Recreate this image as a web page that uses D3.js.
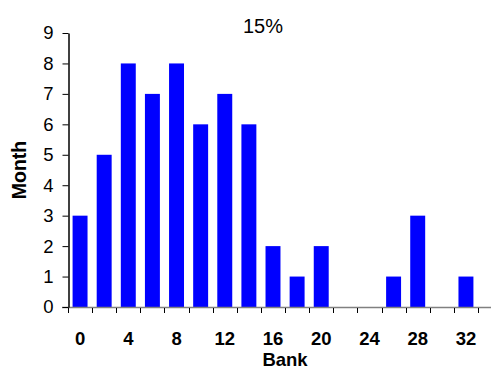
<!DOCTYPE html>
<html>
<head>
<meta charset="utf-8">
<script src="https://cdn.jsdelivr.net/npm/d3@7"></script>
<style>
  html, body { margin: 0; padding: 0; background: #fff; }
  svg { display: block; font-family: "Liberation Sans", Arial, sans-serif; }
</style>
</head>
<body>
<svg id="chart" width="493" height="369"></svg>
<script>
// Bank index and number of months per bank
const banks = [0, 2, 4, 6, 8, 10, 12, 14, 16, 18, 20, 22, 24, 26, 28, 30, 32];
const months = [3, 5, 8, 7, 8, 6, 7, 6, 2, 1, 2, 0, 0, 1, 3, 0, 1];
const yTicks = [0, 1, 2, 3, 4, 5, 6, 7, 8, 9];
const xLabels = [0, 4, 8, 12, 16, 20, 24, 28, 32];
const title = "15%";

(function () {
  const svg = d3.select("#chart");
  const plotLeft = 68, plotRight = 478, plotTop = 33, plotBottom = 307;

  const x = d3.scaleBand()
    .domain(banks)
    .range([plotLeft, plotRight])
    .paddingInner(0.38)
    .paddingOuter(0.19);

  const y = d3.scaleLinear().domain([0, 9]).range([plotBottom, plotTop]);

  const step = x.step();

  // bars
  svg.append("g")
    .selectAll("rect")
    .data(banks.map((b, i) => ({ bank: b, value: months[i] })).filter(d => d.value > 0))
    .join("rect")
    .attr("x", d => x(d.bank))
    .attr("y", d => y(d.value))
    .attr("width", x.bandwidth())
    .attr("height", d => y(0) - y(d.value))
    .attr("fill", "#0000ff");

  // x axis baseline
  svg.append("line")
    .attr("x1", plotLeft - 6).attr("x2", 491)
    .attr("y1", y(0) + 0.5).attr("y2", y(0) + 0.5)
    .attr("stroke", "#808080").attr("stroke-width", 1.5);

  // x tick marks at band boundaries
  svg.append("g")
    .selectAll("line")
    .data(d3.range(banks.length + 1))
    .join("line")
    .attr("x1", i => Math.round(plotLeft + i * step) + 0.5)
    .attr("x2", i => Math.round(plotLeft + i * step) + 0.5)
    .attr("y1", y(0) + 1)
    .attr("y2", y(0) + 6)
    .attr("stroke", "#000").attr("stroke-width", 1);

  // x labels
  svg.append("g")
    .selectAll("text")
    .data(xLabels)
    .join("text")
    .attr("x", d => x(d) + x.bandwidth() / 2)
    .attr("y", 345)
    .attr("text-anchor", "middle")
    .attr("font-size", 18.5)
    .attr("font-weight", "bold")
    .text(d => d);

  // y axis
  const yAxis = d3.axisLeft(y).tickValues(yTicks).tickSize(6).tickSizeOuter(0).tickPadding(9);
  const gy = svg.append("g")
    .attr("transform", `translate(${plotLeft + 0.5},0)`)
    .call(yAxis);
  gy.select(".domain").attr("stroke", "#000").attr("stroke-width", 1.5);
  gy.selectAll(".tick line").attr("stroke", "#000");
  gy.selectAll(".tick text")
    .attr("font-size", 18.5)
    .attr("font-family", "Liberation Sans, Arial, sans-serif")
    .attr("fill", "#000");

  // axis titles
  svg.append("text")
    .attr("transform", `translate(26,${(plotTop + plotBottom) / 2}) rotate(-90)`)
    .attr("text-anchor", "middle")
    .attr("font-size", 19.5)
    .attr("font-weight", "bold")
    .text("Month");

  svg.append("text")
    .attr("x", 285)
    .attr("y", 366)
    .attr("text-anchor", "middle")
    .attr("font-size", 18.5)
    .attr("font-weight", "bold")
    .text("Bank");

  // chart title
  svg.append("text")
    .attr("x", 263)
    .attr("y", 33)
    .attr("text-anchor", "middle")
    .attr("font-size", 20)
    .text(title);
})();
</script>
</body>
</html>
